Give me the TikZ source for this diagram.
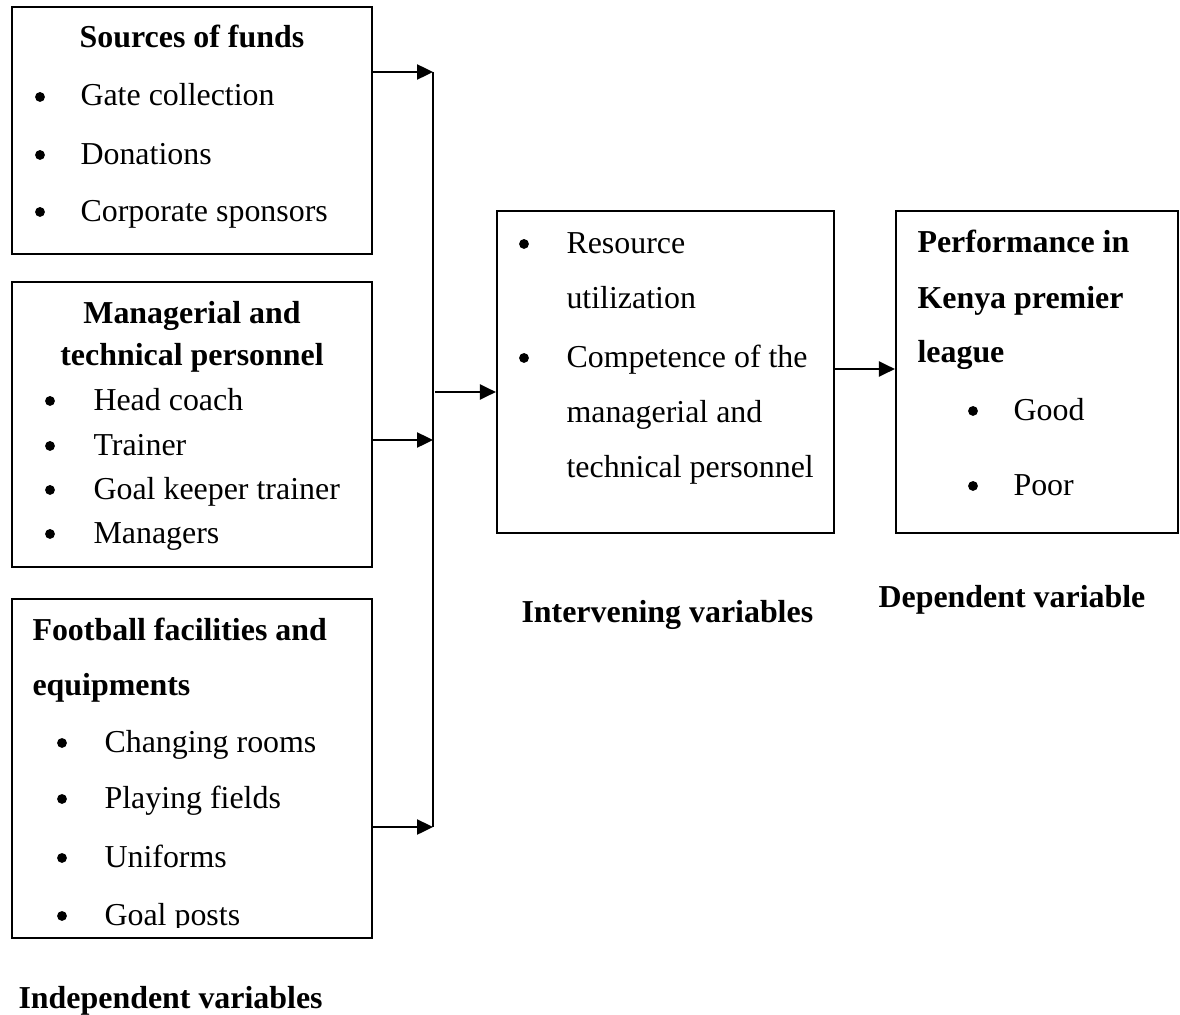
\documentclass[tikz,border=0pt]{standalone}
\usepackage{fontspec}
\setmainfont{Liberation Serif}
\usetikzlibrary{arrows.meta, fit}

\tikzset{
  box/.style={draw, line width=0.8pt, inner sep=0pt},
  txt/.style={anchor=base west, inner sep=0pt, font=\fontsize{12}{14}\selectfont},
  ttl/.style={txt, font=\fontsize{12}{14}\selectfont\bfseries},
  bul/.style={circle, fill, inner sep=0pt, minimum size=3.7pt, yshift=3.4pt},
  arr/.style={line width=1pt, -{Triangle[length=6pt,width=5.6pt]}},
}

\begin{document}
\begin{tikzpicture}[x=0.376pt,y=-0.376pt]
            \useasboundingbox (0,0) rectangle (1180,1015);

            % draw the boxes
            \node[box, fit={(12,7) (372,254)}] (funds) {};
            \node[box, fit={(12,282) (372,567)}] (staff) {};
            \node[box, fit={(12,599) (372,938)}] (facil) {};
            \node[box, fit={(497,211) (834,533)}] (inter) {};
            \node[box, fit={(896,211) (1178,533)}] (perf) {};

            % sources of funds
            \node[ttl, anchor=base] (funds-t) at (192,48) {Sources of funds};
            \foreach \t/\y in {Gate collection/106, Donations/164, Corporate sponsors/221} {
                \node[bul] (funds-b\y) at (40,\y) {};
                \node[txt] (funds-\y) at (80,\y) {\t};
            }

            % managerial and technical personnel
            \node[ttl, anchor=base] (staff-t1) at (192,323) {Managerial and};
            \node[ttl, anchor=base] (staff-t2) at (192,365) {technical personnel};
            \foreach \t/\y in {Head coach/410, Trainer/455, Goal keeper trainer/499, Managers/543} {
                \node[bul] (staff-b\y) at (50,\y) {};
                \node[txt] (staff-\y) at (93,\y) {\t};
            }

            % facilities and equipments, last line cut by the box
            \node[ttl] (facil-t1) at (32,640) {Football facilities and};
            \node[ttl] (facil-t2) at (32,695) {equipments};
            \begin{scope}
                \clip (12,599) rectangle (372,927);
                \foreach \t/\y in {Changing rooms/752, Playing fields/808, Uniforms/867, Goal posts/925} {
                    \node[bul] (facil-b\y) at (62,\y) {};
                    \node[txt] (facil-\y) at (104,\y) {\t};
                }
            \end{scope}

            % intervening variables
            \node[bul] (inter-b1) at (524,253) {};
            \node[bul] (inter-b2) at (524,367) {};
            \foreach \t/\y in {Resource/253, utilization/308, Competence of the/367, managerial and/422, technical personnel/477} {
                \node[txt] (inter-\y) at (566,\y) {\t};
            }

            % performance
            \node[ttl] (perf-t1) at (917,252) {Performance in};
            \node[ttl] (perf-t2) at (917,308) {Kenya premier};
            \node[ttl] (perf-t3) at (917,362) {league};
            \foreach \t/\y in {Good/420, Poor/495} {
                \node[bul] (perf-b\y) at (973,\y) {};
                \node[txt] (perf-\y) at (1013,\y) {\t};
            }

            % the arrows
            \coordinate (j1) at (433,72);
            \coordinate (j2) at (433,440);
            \coordinate (j3) at (433,827);
            \coordinate (j4) at (435,392);
            \coordinate (k) at (0,369);
            \draw[arr] (funds.east |- j1) -- (j1);
            \draw[arr] (staff.east |- j2) -- (j2);
            \draw[arr] (facil.east |- j3) -- (j3);
            \draw[line width=0.8pt] (j1) -- (j3);
            \draw[arr] (j4) -- (inter.west |- j4);
            \draw[arr] (inter.east |- k) -- (perf.west |- k);

            % text under the boxes
            \node[ttl] (indep) at (18,1008) {Independent variables};
            \node[ttl] (interv) at (521,622) {Intervening variables};
            \node[ttl] (dep) at (878,607) {Dependent variable};
        \end{tikzpicture}
\end{document}
